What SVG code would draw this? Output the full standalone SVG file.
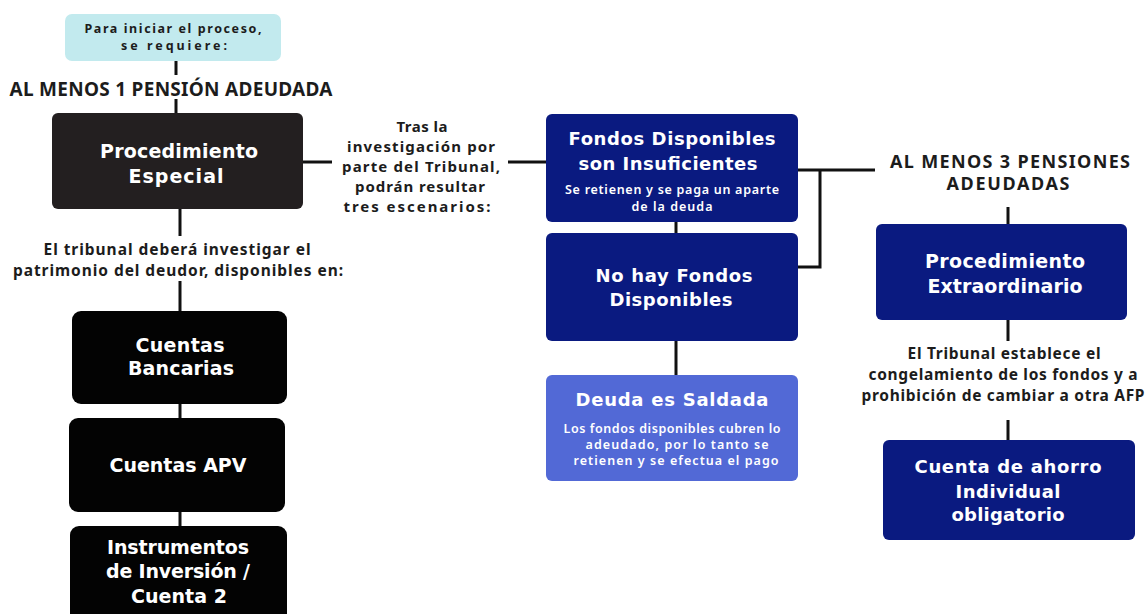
<svg xmlns="http://www.w3.org/2000/svg" width="1147" height="614" viewBox="0 0 1147 614">
<style>
.bg{fill:#ffffff}
.line{stroke:#111111;stroke-width:3;fill:none}
.black{fill:#030303}
.dark{fill:#231f20}
.navy{fill:#0a1a80}
.blue{fill:#5269d6}
.cyan{fill:#c2eaee}
.t{font-family:"DejaVu Sans","Liberation Sans",sans-serif;font-weight:700;fill:#ffffff;text-anchor:middle}
.h{font-family:"Noto Sans","Open Sans","Liberation Sans",sans-serif;font-weight:700;fill:#1c1c1c;text-anchor:middle}
.s{font-family:"Noto Sans","Open Sans","Liberation Sans",sans-serif;font-weight:600;fill:#ffffff;text-anchor:middle}
</style>
<rect class="bg" x="0" y="0" width="1147" height="614"/>
<g id="connectors">
<path class="line" d="M176 61V75"/>
<path class="line" d="M176 99V113"/>
<path class="line" d="M180 209V236"/>
<path class="line" d="M180 281V311"/>
<path class="line" d="M180 404V418"/>
<path class="line" d="M180 512V526"/>
<path class="line" d="M303 162H332"/>
<path class="line" d="M508 162H546"/>
<path class="line" d="M676 222V233"/>
<path class="line" d="M676 341V375"/>
<path class="line" d="M798 170H875"/>
<path class="line" d="M820 170V267H798"/>
<path class="line" d="M1008 207V224"/>
<path class="line" d="M1008 320V341"/>
<path class="line" d="M1008 420V440"/>
</g>
<g id="n-inicio">
<rect class="cyan" x="65" y="14" width="216" height="47" rx="7"/>
<text class="h" x="173" y="33" font-size="12.5" textLength="177">Para iniciar el proceso,</text>
<text class="h" x="174" y="50" font-size="12.5" textLength="106">se requiere:</text>
</g>
<g id="n-al-menos-1">
<text class="h" x="171" y="96" font-size="19" textLength="323">AL MENOS 1 PENSIÓN ADEUDADA</text>
</g>
<g id="n-proc-especial">
<rect class="dark" x="52" y="113" width="251" height="96" rx="6"/>
<text class="t" x="179" y="158" font-size="19" textLength="158">Procedimiento</text>
<text class="t" x="176" y="183" font-size="19" textLength="95">Especial</text>
</g>
<g id="n-tribunal-investigar">
<text class="h" x="177" y="255" font-size="15.5" textLength="267">El tribunal deberá investigar el</text>
<text class="h" x="178" y="276" font-size="15.5" textLength="330">patrimonio del deudor, disponibles en:</text>
</g>
<g id="n-cuentas-bancarias">
<rect class="black" x="72" y="311" width="215" height="93" rx="9"/>
<text class="t" x="180" y="352" font-size="19" textLength="89">Cuentas</text>
<text class="t" x="181" y="375" font-size="19" textLength="106">Bancarias</text>
</g>
<g id="n-cuentas-apv">
<rect class="black" x="69" y="418" width="216" height="94" rx="9"/>
<text class="t" x="178" y="472" font-size="19" textLength="137">Cuentas APV</text>
</g>
<g id="n-instrumentos">
<rect class="black" x="70" y="526" width="217" height="96" rx="9"/>
<text class="t" x="178" y="554" font-size="19" textLength="142">Instrumentos</text>
<text class="t" x="178" y="578" font-size="19" textLength="144">de Inversión /</text>
<text class="t" x="179" y="603" font-size="19" textLength="96">Cuenta 2</text>
</g>
<g id="n-tras-la">
<text class="h" x="422" y="132" font-size="15" textLength="51">Tras la</text>
<text class="h" x="421" y="152" font-size="15" textLength="148">investigación  por</text>
<text class="h" x="421" y="172" font-size="15" textLength="158">parte del Tribunal,</text>
<text class="h" x="420" y="192" font-size="15" textLength="130">podrán resultar</text>
<text class="h" x="417" y="212" font-size="15" textLength="147">tres escenarios:</text>
</g>
<g id="n-insuficientes">
<rect class="navy" x="546" y="114" width="252" height="108" rx="6"/>
<text class="t" x="672" y="145" font-size="18" textLength="207">Fondos Disponibles</text>
<text class="t" x="668" y="170" font-size="18" textLength="179">son Insuficientes</text>
<text class="s" x="672" y="194" font-size="12.5" textLength="214">Se retienen y se paga un aparte</text>
<text class="s" x="672" y="211" font-size="12.5" textLength="81">de la deuda</text>
</g>
<g id="n-no-hay">
<rect class="navy" x="546" y="233" width="252" height="108" rx="6"/>
<text class="t" x="674" y="282" font-size="18" textLength="157">No hay Fondos</text>
<text class="t" x="671" y="306" font-size="18" textLength="123">Disponibles</text>
</g>
<g id="n-saldada">
<rect class="blue" x="546" y="375" width="252" height="106" rx="6"/>
<text class="t" x="672" y="406" font-size="18" textLength="193">Deuda es Saldada</text>
<text class="s" x="672" y="433" font-size="12.5" textLength="217">Los fondos disponibles cubren lo</text>
<text class="s" x="677" y="449" font-size="12.5" textLength="183">adeudado, por lo tanto se</text>
<text class="s" x="676" y="465" font-size="12.5" textLength="205">retienen y se efectua el pago</text>
</g>
<g id="n-al-menos-3">
<text class="h" x="1010" y="168" font-size="18" textLength="240">AL MENOS 3 PENSIONES</text>
<text class="h" x="1008" y="190" font-size="18" textLength="123">ADEUDADAS</text>
</g>
<g id="n-proc-extra">
<rect class="navy" x="876" y="224" width="251" height="96" rx="6"/>
<text class="t" x="1005" y="268" font-size="19" textLength="160">Procedimiento</text>
<text class="t" x="1005" y="293" font-size="19" textLength="155">Extraordinario</text>
</g>
<g id="n-congelamiento">
<text class="h" x="1004" y="359" font-size="15.5" textLength="193">El Tribunal establece el</text>
<text class="h" x="1003" y="380" font-size="15.5" textLength="269">congelamiento de los fondos y a</text>
<text class="h" x="1003" y="401" font-size="15.5" textLength="283">prohibición de cambiar a otra AFP</text>
</g>
<g id="n-cuenta-ahorro">
<rect class="navy" x="883" y="440" width="252" height="100" rx="6"/>
<text class="t" x="1008" y="473" font-size="18" textLength="187">Cuenta de ahorro</text>
<text class="t" x="1008" y="498" font-size="18" textLength="105">Individual</text>
<text class="t" x="1008" y="521" font-size="18" textLength="113">obligatorio</text>
</g>
</svg>
